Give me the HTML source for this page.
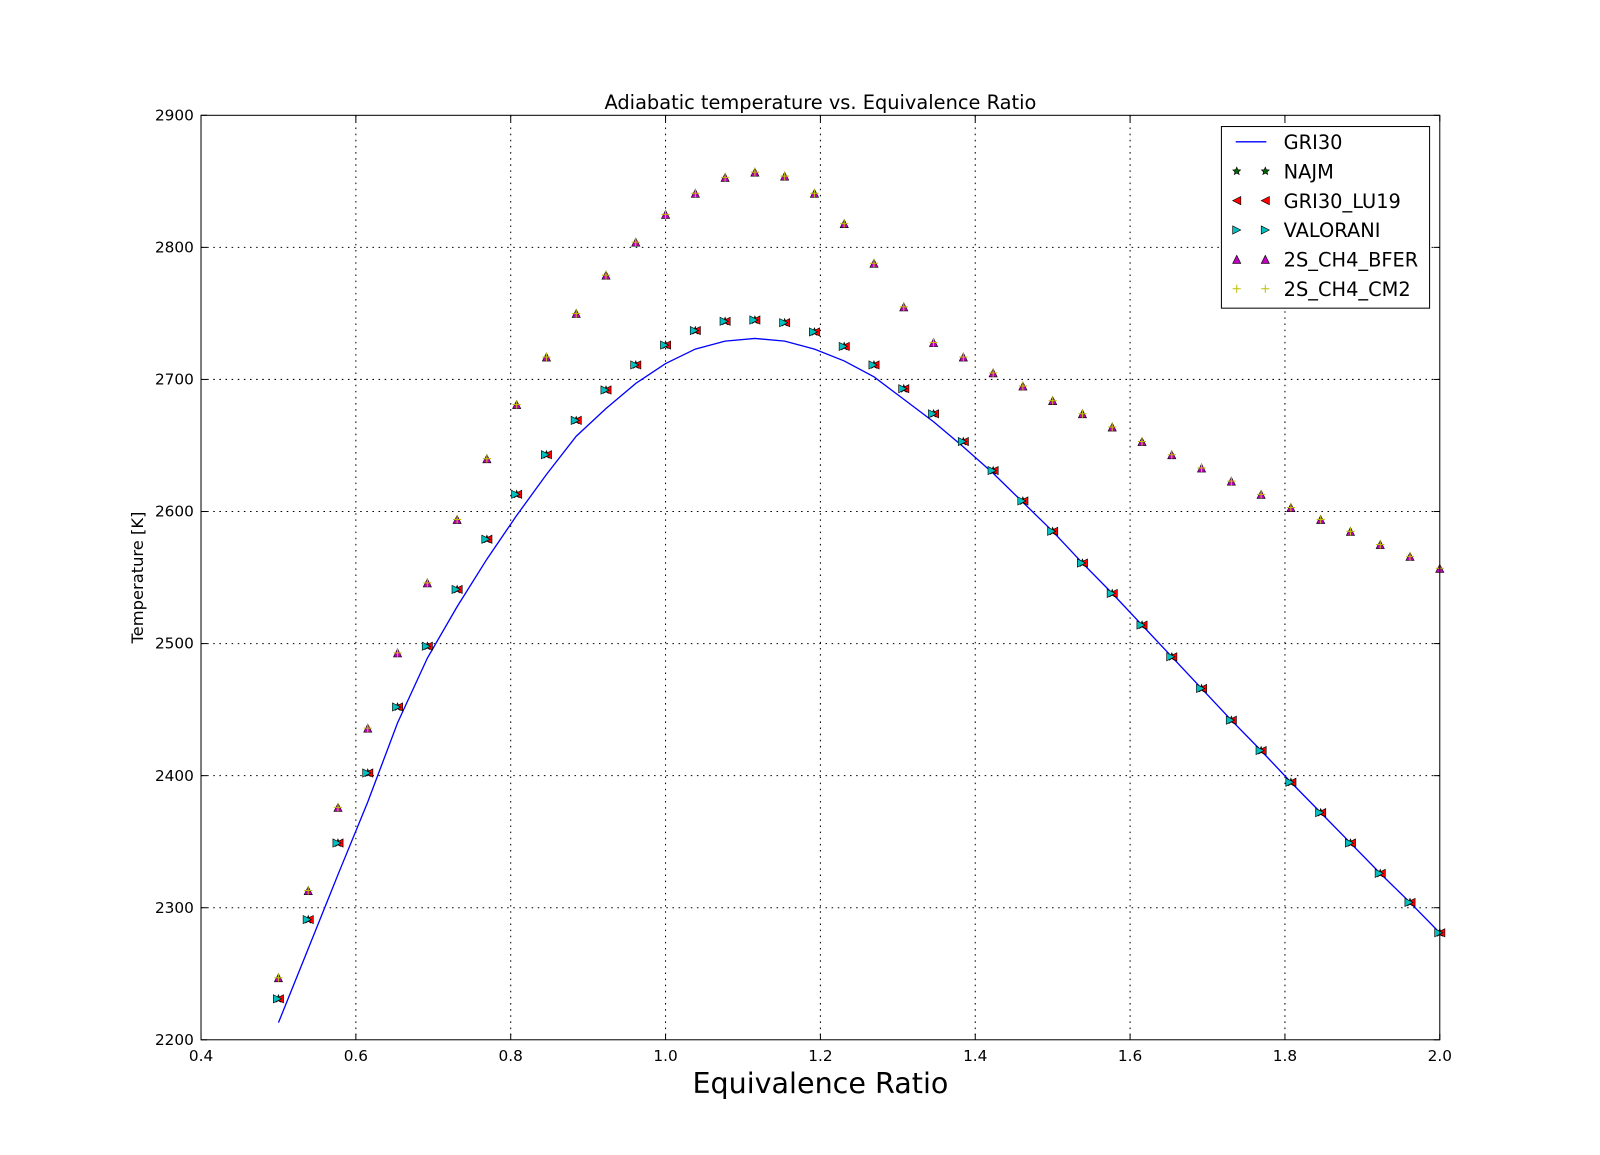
<!DOCTYPE html>
<html><head><meta charset="utf-8">
<style>
html,body{margin:0;padding:0;background:#fff;}
svg{display:block;font-family:"DejaVu Sans","Liberation Sans",sans-serif;}
</style></head>
<body>
<svg id="chart" width="1600" height="1155" viewBox="0 0 1600 1155" xmlns="http://www.w3.org/2000/svg">
<rect x="0" y="0" width="1600" height="1155" fill="#fff"/>
<g transform="scale(1.0204)">
<text x="804" y="107" font-size="19" text-anchor="middle">Adiabatic temperature vs. Equivalence Ratio</text>
<text x="804" y="1071" font-size="28" text-anchor="middle">Equivalence Ratio</text>
<text transform="translate(140,566) rotate(-90)" font-size="16" text-anchor="middle">Temperature [K]</text>
<g id="grid"></g>
<g id="ticks"></g>
<g id="series"></g>
<rect x="197" y="113" width="1214" height="906" fill="none" stroke="#000" stroke-width="1"/>
<g id="legend"></g>
</g>
</svg>
<script>
const phiCount = 40;
const phiMin = 0.5, phiMax = 2.0;
const xTicks = [0.4,0.6,0.8,1.0,1.2,1.4,1.6,1.8,2.0];
const yTicks = [2200,2300,2400,2500,2600,2700,2800,2900];
const gri30Line = [2213,2269,2325,2380,2440,2489,2528,2564,2597,2628,2657,2678,2697,2712,2723,2729,2731,2729,2723,2714,2702,2685,2668,2649,2629,2607,2585,2561,2538,2514,2490,2466,2442,2419,2395,2372,2349,2326,2304,2281];
const lowerPoints = [2231,2291,2349,2402,2452,2498,2541,2579,2613,2643,2669,2692,2711,2726,2737,2744,2745,2743,2736,2725,2711,2693,2674,2653,2631,2608,2585,2561,2538,2514,2490,2466,2442,2419,2395,2372,2349,2326,2304,2281];
const upperPoints = [2247,2313,2376,2436,2493,2546,2594,2640,2681,2717,2750,2779,2804,2825,2841,2853,2857,2854,2841,2818,2788,2755,2728,2717,2705,2695,2684,2674,2664,2653,2643,2633,2623,2613,2603,2594,2585,2575,2566,2557];

const NS="http://www.w3.org/2000/svg";
const X0=197,X1=1411,Y0=1019,Y1=113;
function xs(v){return X0+(v-0.4)/(2.0-0.4)*(X1-X0);}
function ys(v){return Y0-(v-2200)/(2900-2200)*(Y0-Y1);}
function phiAt(i){return phiMin+(phiMax-phiMin)*i/(phiCount-1);}
function mk(tag,attrs,parent){const e=document.createElementNS(NS,tag);for(const k in attrs)e.setAttribute(k,attrs[k]);parent.appendChild(e);return e;}

const grid=document.getElementById('grid'),ticks=document.getElementById('ticks'),series=document.getElementById('series'),legend=document.getElementById('legend');
xTicks.forEach(t=>{
  const x=xs(t);
  if(t>0.4&&t<2.0){const g=mk('line',{x1:x,x2:x,y1:Y1,y2:Y0,stroke:'#000','stroke-dasharray':'1.5,4.5','stroke-width':1},grid);
  
  }
  mk('line',{x1:x,x2:x,y1:Y0,y2:Y0-6,stroke:'#000'},ticks);
  mk('line',{x1:x,x2:x,y1:Y1,y2:Y1+6,stroke:'#000'},ticks);
  const tx=mk('text',{x:x,y:Y0+21,'font-size':15,'text-anchor':'middle'},ticks);
  tx.textContent=t.toFixed(1);
  
  
});
yTicks.forEach(t=>{
  const y=ys(t);
  if(t>2200&&t<2900){const g=mk('line',{x1:X0,x2:X1,y1:y,y2:y,stroke:'#000','stroke-dasharray':'1.5,4.5','stroke-width':1},grid);
  
  }
  mk('line',{x1:X0,x2:X0+6,y1:y,y2:y,stroke:'#000'},ticks);
  mk('line',{x1:X1,x2:X1-6,y1:y,y2:y,stroke:'#000'},ticks);
  const tx=mk('text',{x:X0-7,y:y+5,'font-size':15,'text-anchor':'end'},ticks);
  tx.textContent=t;
  
  
});

function star(x,y,r,parent){let p='';for(let i=0;i<10;i++){const a=-Math.PI/2+i*Math.PI/5;const rr=i%2?r*0.45:r;p+=(i?'L':'M')+(x+rr*Math.cos(a)).toFixed(1)+','+(y+rr*Math.sin(a)).toFixed(1);}return mk('path',{d:p+'Z',fill:'#006400',stroke:'#000','stroke-width':0.6},parent);}
function triL(x,y,r,parent){return mk('path',{d:`M${x-r},${y}L${x+r},${y-r}L${x+r},${y+r}Z`,fill:'#ff0000',stroke:'#000','stroke-width':0.6},parent);}
function triR(x,y,r,parent){return mk('path',{d:`M${x+r},${y}L${x-r},${y-r}L${x-r},${y+r}Z`,fill:'#00bfbf',stroke:'#000','stroke-width':0.6},parent);}
function triU(x,y,r,parent){return mk('path',{d:`M${x},${y-r}L${x+r},${y+r}L${x-r},${y+r}Z`,fill:'#bf00bf',stroke:'#000','stroke-width':0.6},parent);}
function plus(x,y,r,parent){return mk('path',{d:`M${x-r},${y}H${x+r}M${x},${y-r}V${y+r}`,stroke:'#bfbf00','stroke-width':1},parent);}

let d='';
gri30Line.forEach((v,i)=>{d+=(i?'L':'M')+xs(phiAt(i)).toFixed(1)+','+ys(v).toFixed(1);});
const ln=mk('path',{d:d,fill:'none',stroke:'#0000ff','stroke-width':1.3},series);



lowerPoints.forEach((v,i)=>{const x=xs(phiAt(i)),y=ys(v);
  const a=star(x,y,4,series);
  const b=triL(x+1,y,4,series);
  const c=triR(x-1,y,4,series);
});
upperPoints.forEach((v,i)=>{const x=xs(phiAt(i)),y=ys(v);
  const a=triU(x,y,4,series);
  const b=plus(x,y,4,series);
});

const lb=mk('rect',{x:1197,y:124,width:204,height:178,fill:'#fff',stroke:'#000','stroke-width':1},legend);


const names=['GRI30','NAJM','GRI30_LU19','VALORANI','2S_CH4_BFER','2S_CH4_CM2'];
names.forEach((n,i)=>{
  const y=139+i*28.8;
  const g=mk('g',{},legend);
  
  
  if(i===0) mk('line',{x1:1211,x2:1241,y1:y,y2:y,stroke:'#0000ff','stroke-width':1.3},g);
  else [1212,1240].forEach(x=>{
    if(i===1)star(x,y,4,g);else if(i===2)triL(x,y,4,g);else if(i===3)triR(x,y,4,g);else if(i===4)triU(x,y,4,g);else plus(x,y,4,g);
  });
  const t=mk('text',{x:1258,y:y+7,'font-size':19},g);
  t.textContent=n;
});
</script>
</body></html>
